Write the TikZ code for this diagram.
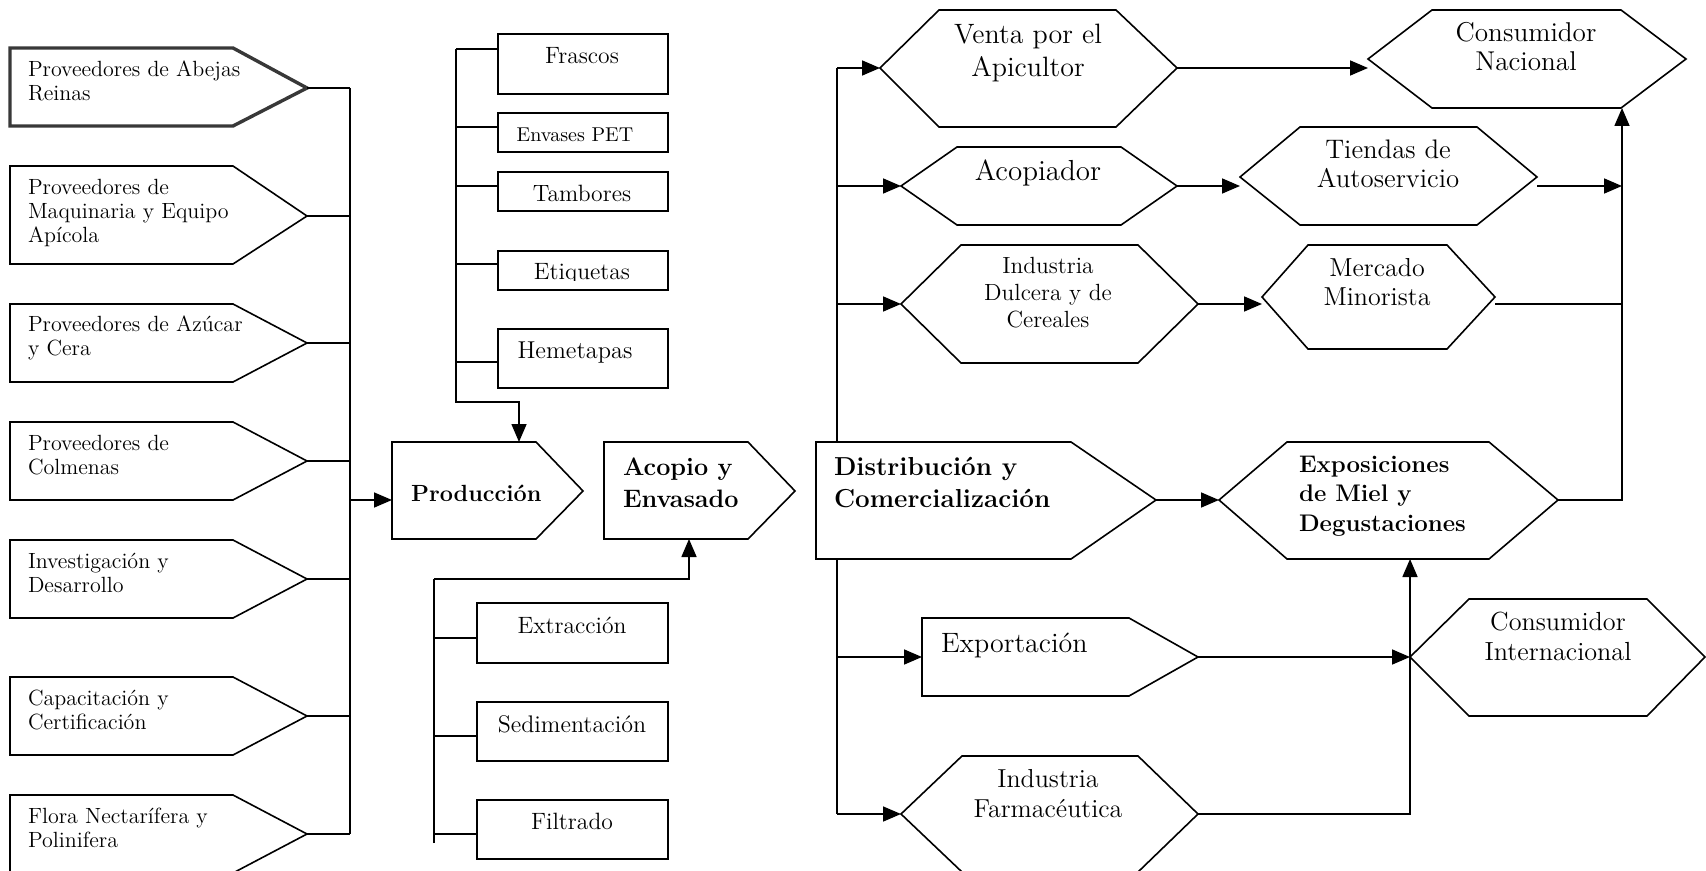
\documentclass[tikz,border=0pt]{standalone}
\usepackage{fontspec}
\usetikzlibrary{arrows.meta}
\newcommand\pentag[8]{%
  \draw[#8] (#2,#3) -- (#5,#3) -- (#6,#7) -- (#5,#4) -- (#2,#4) -- cycle;
  \coordinate (#1-tip) at (#6,#7);}
\newcommand\hexag[8]{%
  \draw[shp] (#2,#3) -- (#4,#7) -- (#5,#7) -- (#6,#3) -- (#5,#8) -- (#4,#8) -- cycle;
  \coordinate (#1-w) at (#2,#3);
  \coordinate (#1-e) at (#6,#3);}
\begin{document}
\begin{tikzpicture}[x=0.5pt,y=-0.5pt,
  shp/.style={draw=black,line width=0.8pt},
  thickshp/.style={draw=black!78,line width=1.7pt},
  con/.style={draw=black,line width=0.8pt},
  arr/.style={con,-{Triangle[length=9pt,width=7.5pt]}},
  lbl/.style={inner sep=0pt,outer sep=0pt},
  lt/.style={lbl,align=left,anchor=base west,font=\fontsize{11}{12}\selectfont},
  bx/.style={lbl,anchor=base,font=\fontsize{11.8}{14}\selectfont},
  ctr/.style={lbl,align=center,anchor=base},
  bold/.style={lbl,align=left,anchor=base west}]
\useasboundingbox (0,0) rectangle (1706,871);

% ---------- left column (text anchors at last-line baselines) ----------
\pentag{L1}{10}{48}{126}{233}{307}{88}{thickshp}
\pentag{L2}{10}{166}{264}{233}{307}{216}{shp}
\pentag{L3}{10}{304}{382}{233}{307}{343}{shp}
\pentag{L4}{10}{422}{500}{233}{307}{461}{shp}
\pentag{L5}{10}{540}{618}{233}{307}{579}{shp}
\pentag{L6}{10}{677}{755}{233}{307}{716}{shp}
\pentag{L7}{10}{795}{873}{233}{307}{834}{shp}
\node[lt] (t1) at (28,101) {Proveedores de Abejas\\Reinas};
\node[lt] (t2) at (28,243) {Proveedores de\\Maquinaria y Equipo\\Apícola};
\node[lt] (t3) at (28,356) {Proveedores de Azúcar\\y Cera};
\node[lt] (t4) at (28,474) {Proveedores de\\Colmenas};
\node[lt] (t5) at (28,592) {Investigación y\\Desarrollo};
\node[lt] (t6) at (28,729) {Capacitación y\\Certificación};
\node[lt] (t7) at (28,847) {Flora Nectarífera y\\Polinifera};

\coordinate (busL) at (350,0);
\foreach \i in {1,...,7} {\draw[con] (L\i-tip) -- (L\i-tip -| busL);}
\draw[con] (L1-tip -| busL) -- (L7-tip -| busL);

% ---------- Produccion / Acopio ----------
\pentag{prod}{392}{442}{539}{536}{583}{491}{shp}
\pentag{acop}{604}{442}{539}{748}{795}{491}{shp}
\node[bold,font=\fontsize{11.7}{14}\selectfont\bfseries] (tprod) at (411,501) {Producción};
\node[bold,font=\fontsize{12.6}{16}\selectfont\bfseries] (tacop) at (623,507) {Acopio y\\Envasado};
\coordinate (prod-in) at (392,500);
\coordinate (prod-n) at (519,442);
\coordinate (acop-s) at (689,539);
\draw[arr] (prod-in -| busL) -- (prod-in);

% ---------- upper boxes ----------
\draw[shp] (498,34) rectangle (668,94);
\draw[shp] (498,113) rectangle (668,152);
\draw[shp] (498,172) rectangle (668,211);
\draw[shp] (498,251) rectangle (668,290);
\draw[shp] (498,329) rectangle (668,388);
\node[bx] (tfras) at (582,64) {Frascos};
\node[bx,font=\fontsize{10}{12}\selectfont] (tenv) at (575,142) {Envases PET};
\node[bx] (ttamb) at (582,202) {Tambores};
\begin{scope}
  \clip (498,240) rectangle (668,281);
  \node[bx] (tetiq) at (582,280) {Etiquetas};
\end{scope}
\node[bx,font=\fontsize{12.2}{14}\selectfont] (themet) at (575,358) {Hemetapas};
\coordinate (busU) at (456,0);
\coordinate (fras-w) at (498,49);
\coordinate (env-w) at (498,127);
\coordinate (tamb-w) at (498,186);
\coordinate (etiq-w) at (498,264);
\coordinate (hem-w) at (498,362);
\coordinate (busU-end) at (456,402);
\foreach \b in {fras,env,tamb,etiq,hem} {\draw[con] (\b-w) -- (\b-w -| busU);}
\draw[arr] (fras-w -| busU) -- (busU-end) -| (prod-n);

% ---------- lower boxes ----------
\draw[shp] (477,603) rectangle (668,663);
\draw[shp] (477,702) rectangle (668,761);
\draw[shp] (477,800) rectangle (668,859);
\node[bx] (textr) at (572,633) {Extracción};
\node[bx,font=\fontsize{12}{14}\selectfont] (tsedi) at (572,732) {Sedimentación};
\node[bx] (tfilt) at (572,829) {Filtrado};
\coordinate (busB-top) at (434,579);
\coordinate (busB-bot) at (434,843);
\coordinate (extr-w) at (477,638);
\coordinate (sedi-w) at (477,736);
\coordinate (filt-w) at (477,834);
\foreach \b in {extr,sedi,filt} {\draw[con] (\b-w) -- (\b-w -| busB-top);}
\draw[con] (busB-bot) -- (busB-top);
\draw[arr] (busB-top) -| (acop-s);

% ---------- right part ----------
\pentag{dist}{816}{442}{559}{1071}{1156}{500}{shp}
\pentag{expo}{922}{618}{696}{1129}{1198}{657}{shp}
\hexag{venta}{880}{68}{939}{1116}{1177}{10}{127}
\hexag{acopd}{901}{186}{957}{1121}{1177}{147}{225}
\hexag{dulc}{901}{304}{961}{1138}{1198}{245}{363}
\hexag{farm}{901}{814}{962}{1138}{1198}{756}{872}
\hexag{tiend}{1240}{177}{1300}{1477}{1537}{127}{225}
\hexag{merc}{1262}{297}{1308}{1447}{1495}{245}{349}
\hexag{cnac}{1368}{59}{1432}{1621}{1686}{10}{108}
\hexag{expd}{1219}{500}{1287}{1489}{1558}{442}{559}
\hexag{cint}{1410}{657}{1469}{1647}{1705}{599}{716}

\node[bold,font=\fontsize{13}{16}\selectfont\bfseries] (tdist) at (834,507) {Distribución y\\Comercialización};
\node[bold,font=\fontsize{14}{16.5}\selectfont\mdseries] (texpo) at (941,652) {Exportación};
\node[ctr,font=\fontsize{14}{16.5}\selectfont] (tventa) at (1028,77) {Venta por el\\Apicultor};
\node[ctr,font=\fontsize{14.5}{16.5}\selectfont] (tacopd) at (1038,181) {Acopiador};
\node[ctr,font=\fontsize{11.7}{13.5}\selectfont] (tdulc) at (1048,328) {Industria\\Dulcera y de\\Cereales};
\node[ctr,font=\fontsize{13}{15}\selectfont] (tfarm) at (1048,817) {Industria\\Farmacéutica};
\node[ctr,font=\fontsize{13.4}{14.5}\selectfont] (ttiend) at (1388,188) {Tiendas de\\Autoservicio};
\node[ctr,font=\fontsize{13}{14.5}\selectfont] (tmerc) at (1377,306) {Mercado\\Minorista};
\node[ctr,font=\fontsize{13.6}{14.5}\selectfont] (tcnac) at (1526,71) {Consumidor\\Nacional};
\node[bold,font=\fontsize{12}{14.75}\selectfont\bfseries] (texpd) at (1299,531) {Exposiciones\\de Miel y\\Degustaciones};
\node[ctr,font=\fontsize{13.1}{15}\selectfont] (tcint) at (1558,660) {Consumidor\\Internacional};

\coordinate (dist-n) at (837,442);
\coordinate (dist-s) at (837,559);
\coordinate (expo-in) at (922,657);
\coordinate (cnac-in) at (1368,68);
\coordinate (cnac-s) at (1622,108);
\coordinate (tiend-in) at (1240,186);
\coordinate (tiend-out) at (1537,186);
\coordinate (merc-in) at (1262,304);
\coordinate (merc-out) at (1495,304);
\coordinate (expd-s) at (1410,559);

\draw[con] (dist-n) -- (venta-w -| dist-n);
\draw[con] (dist-s) -- (farm-w -| dist-s);
\draw[arr] (venta-w -| dist-n) -- (venta-w);
\draw[arr] (acopd-w -| dist-n) -- (acopd-w);
\draw[arr] (dulc-w -| dist-n) -- (dulc-w);
\draw[arr] (expo-in -| dist-s) -- (expo-in);
\draw[arr] (farm-w -| dist-s) -- (farm-w);
\draw[arr] (venta-e) -- (cnac-in);
\draw[arr] (acopd-e) -- (tiend-in);
\draw[arr] (tiend-out) -- (tiend-out -| cnac-s);
\draw[arr] (dulc-e) -- (merc-in);
\draw[con] (merc-out) -- (merc-out -| cnac-s);
\draw[arr] (dist-tip) -- (expd-w);
\draw[arr] (expd-e) -| (cnac-s);
\draw[arr] (expo-tip) -- (cint-w);
\draw[arr] (farm-e) -| (expd-s);
\end{tikzpicture}
\end{document}
